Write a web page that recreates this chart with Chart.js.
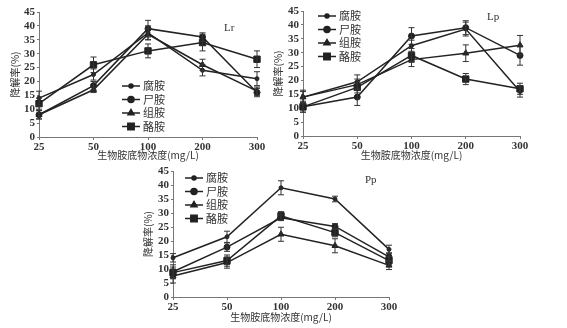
<!DOCTYPE html>
<html>
<head>
<meta charset="utf-8">
<script src="https://cdn.jsdelivr.net/npm/chart.js@4.4.1/dist/chart.umd.min.js"></script>
<style>
  html, body { margin: 0; padding: 0; background: #fff; }
  body { width: 567px; height: 328px; position: relative; overflow: hidden; }
  canvas { position: absolute; }
</style>
</head>
<body>
<canvas id="lr" style="left:0px;top:0px;width:280px;height:165px"></canvas>
<canvas id="lp" style="left:262px;top:0px;width:290px;height:165px"></canvas>
<canvas id="pp" style="left:135px;top:160px;width:280px;height:168px"></canvas>
<script>
// substrate concentrations (mg/L) and the four biogenic amines
const concentrations = ['25', '50', '100', '200', '300'];
const amines = ['腐胺', '尸胺', '组胺', '酪胺'];

// degradation rate (%) – Lr
const lrPutrescine = [14, 22.5, 37.5, 24, 21];
const lrCadaverine = [8, 18.5, 39, 36, 16];
const lrHistamine = [8, 17, 37, 26, 16.5];
const lrTyramine = [12, 26, 31, 34, 28];
const lrErrors = [
  [2.5, 2, 2.5, 2, 2.5],
  [1.5, 1.5, 3, 1.5, 1.5],
  [1.5, 1, 2, 2, 1.5],
  [2, 2.8, 2.5, 3, 3]
];

// degradation rate (%) – Lp
const lpPutrescine = [14, 19.5, 32.5, 38.5, 16];
const lpCadaverine = [10.5, 14, 36, 39, 29];
const lpHistamine = [14, 18.5, 27.5, 29.8, 32.7];
const lpTyramine = [10.5, 17.5, 29, 20.5, 17];
const lpErrors = [
  [2, 2.5, 2, 2.5, 2],
  [2, 3, 3, 2.5, 3.5],
  [2.5, 2, 2.5, 3, 3.5],
  [1.5, 2, 2.5, 2, 2]
];

// degradation rate (%) – Pp
const ppPutrescine = [14, 21.5, 39, 35, 17];
const ppCadaverine = [9, 17.8, 28.3, 25.2, 14.3];
const ppHistamine = [7.5, 12.3, 22.4, 18.3, 11.3];
const ppTyramine = [8.7, 13, 29, 23, 13];
const ppErrors = [
  [1.5, 2, 2.5, 1, 1.5],
  [2.5, 1.5, 1, 1, 1.5],
  [2.5, 2, 2.5, 2.5, 1.5],
  [2, 2, 1.5, 1.5, 1.5]
];

const markers = [
  { pointStyle: 'circle', radius: 2 },
  { pointStyle: 'circle', radius: 3 },
  { pointStyle: 'triangle', radius: 3.5 },
  { pointStyle: 'rect', radius: 4.5 }
];

const INK = '#222';
const serif = "'Liberation Serif', 'Noto Sans CJK SC', serif";
const cjk = "'Noto Sans CJK SC', 'Liberation Serif', sans-serif";

// vertical error bars with caps
const errorBars = {
  id: 'errorBars',
  afterDatasetsDraw(chart) {
    const ctx = chart.ctx;
    const y = chart.scales.y;
    ctx.save();
    ctx.strokeStyle = '#333';
    ctx.lineWidth = 1;
    chart.data.datasets.forEach((ds, i) => {
      const meta = chart.getDatasetMeta(i);
      meta.data.forEach((pt, j) => {
        const e = ds.errors[j];
        const top = y.getPixelForValue(ds.data[j] + e);
        const bot = y.getPixelForValue(ds.data[j] - e);
        ctx.beginPath();
        ctx.moveTo(pt.x, top); ctx.lineTo(pt.x, bot);
        ctx.moveTo(pt.x - 3, top); ctx.lineTo(pt.x + 3, top);
        ctx.moveTo(pt.x - 3, bot); ctx.lineTo(pt.x + 3, bot);
        ctx.stroke();
      });
    });
    ctx.restore();
  }
};

// legend drawn inside the plot area, plus the strain label
const innerLegend = {
  id: 'innerLegend',
  afterDraw(chart, args, opts) {
    const ctx = chart.ctx;
    ctx.save();
    chart.data.datasets.forEach((ds, i) => {
      const yy = opts.y + i * opts.gap;
      ctx.strokeStyle = INK;
      ctx.lineWidth = 1.5;
      ctx.beginPath();
      ctx.moveTo(opts.x, yy); ctx.lineTo(opts.x + 18, yy);
      ctx.stroke();
      ctx.fillStyle = INK;
      Chart.helpers.drawPoint(ctx, {
        pointStyle: ds.pointStyle, radius: ds.pointRadius, rotation: 0, borderWidth: 1
      }, opts.x + 9, yy);
      ctx.fill();
      ctx.font = '11px ' + cjk;
      ctx.textBaseline = 'middle';
      ctx.fillStyle = '#333';
      ctx.fillText(ds.label, opts.x + 21, yy);
    });
    ctx.font = '11px ' + serif;
    ctx.fillStyle = '#333';
    ctx.textBaseline = 'middle';
    ctx.fillText(opts.name, opts.nameX, opts.nameY);
    ctx.restore();
  }
};

function makeChart(id, series, errors, box, legend) {
  const canvas = document.getElementById(id);
  const W = parseInt(canvas.style.width), H = parseInt(canvas.style.height);
  const datasets = series.map((values, i) => ({
    label: amines[i],
    data: values,
    errors: errors[i],
    borderColor: INK,
    backgroundColor: INK,
    borderWidth: 1.5,
    pointStyle: markers[i].pointStyle,
    pointRadius: markers[i].radius,
    pointBorderWidth: 1,
    tension: 0,
    clip: false
  }));
  return new Chart(canvas, {
    type: 'line',
    data: { labels: concentrations, datasets },
    plugins: [errorBars, innerLegend],
    options: {
      responsive: false,
      animation: false,
      devicePixelRatio: 1,
      layout: { padding: { left: 0, top: box.top, right: W - box.right, bottom: 0 } },
      plugins: {
        legend: { display: false },
        tooltip: { enabled: false },
        innerLegend: legend
      },
      scales: {
        x: {
          type: 'category',
          offset: false,
          afterFit: s => { s.height = H - box.bottom; },
          grid: { drawOnChartArea: false, tickLength: 3, color: '#777' },
          border: { color: '#777', width: 1 },
          ticks: { color: '#333', padding: 1, maxRotation: 0, autoSkip: false, font: { family: serif, size: 11, weight: 'bold' } },
          title: { display: true, text: '生物胺底物浓度(mg/L)', color: '#333', padding: { bottom: box.xTitlePad, top: 0 }, font: { family: cjk, size: 10 } }
        },
        y: {
          min: 0, max: 45,
          afterFit: s => { s.width = box.left; },
          grid: { drawOnChartArea: false, tickLength: 2, color: '#777' },
          border: { color: '#777', width: 1 },
          ticks: { stepSize: 5, autoSkip: false, color: '#333', padding: 2, font: { family: serif, size: 11, weight: 'bold' } },
          title: { display: true, text: '降解率(%)', color: '#333', padding: { top: box.yTitlePad, bottom: 0 }, font: { family: cjk, size: 10 } }
        }
      }
    }
  });
}

makeChart('lr', [lrPutrescine, lrCadaverine, lrHistamine, lrTyramine], lrErrors,
  { left: 39, right: 257, top: 12, bottom: 137, xTitlePad: 4, yTitlePad: 9 },
  { x: 122, y: 86, gap: 13.5, name: 'Lr', nameX: 224, nameY: 28 });

makeChart('lp', [lpPutrescine, lpCadaverine, lpHistamine, lpTyramine], lpErrors,
  { left: 41, right: 258, top: 11, bottom: 136, xTitlePad: 4, yTitlePad: 10 },
  { x: 56, y: 16, gap: 13.5, name: 'Lp', nameX: 225, nameY: 17 });

makeChart('pp', [ppPutrescine, ppCadaverine, ppHistamine, ppTyramine], ppErrors,
  { left: 38, right: 254, top: 11, bottom: 137, xTitlePad: 5, yTitlePad: 7 },
  { x: 50, y: 18, gap: 13.5, name: 'Pp', nameX: 230, nameY: 20 });
</script>
</body>
</html>
